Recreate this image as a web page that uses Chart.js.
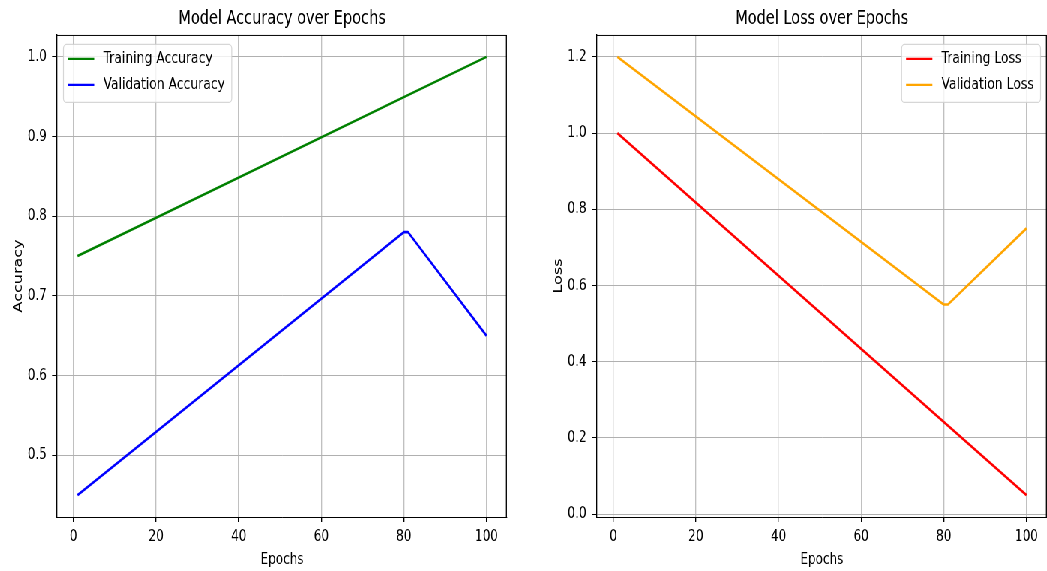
<!DOCTYPE html>
<html>
<head>
<meta charset="utf-8">
<script src="https://cdn.jsdelivr.net/npm/chart.js@4.4.0/dist/chart.umd.min.js"></script>
<style>
html, body { margin: 0; padding: 0; background: #fff; overflow: hidden; width: 1047px; height: 571px; }
/* the reference figure is squeezed sideways (about 3:4), so draw it wide and squeeze it the same way */
#fig { position: absolute; left: 0; top: 0; width: 1396px; height: 571px; transform: scaleX(0.75); transform-origin: 0 0; }
#accCanvas { position: absolute; left: 0; top: 0; }
#lossCanvas { position: absolute; left: 720px; top: 0; }
</style>
</head>
<body>
<div id="fig">
  <canvas id="accCanvas" width="693" height="571"></canvas>
  <canvas id="lossCanvas" width="676" height="571"></canvas>
</div>
<script>
// data
const trainEpochs = [1, 100];
const valEpochs = [1, 80, 81, 100];
const trainAcc = [0.75, 1.0];
const valAcc = [0.45, 0.78, 0.78, 0.65];
const trainLoss = [1.0, 0.05];
const valLoss = [1.2, 0.55, 0.55, 0.75];
const epochTicks = [0, 20, 40, 60, 80, 100];
const accTicks = [0.5, 0.6, 0.7, 0.8, 0.9, 1.0];
const lossTicks = [0.0, 0.2, 0.4, 0.6, 0.8, 1.0, 1.2];

const FONT = "'DejaVu Sans', sans-serif";

function pts(xs, ys) {
  return xs.map((x, i) => ({ x: x, y: ys[i] }));
}

// top and right spines (left and bottom are the axis borders)
const framePlugin = {
  id: "frame",
  afterDatasetsDraw(chart) {
    const a = chart.chartArea;
    const ctx = chart.ctx;
    ctx.save();
    ctx.strokeStyle = "#000";
    ctx.beginPath();
    ctx.lineWidth = 1;
    ctx.moveTo(a.left, a.top + 0.5);
    ctx.lineTo(a.right, a.top + 0.5);
    ctx.stroke();
    ctx.beginPath();
    ctx.lineWidth = 1.33;
    ctx.moveTo(a.right - 0.7, a.top);
    ctx.lineTo(a.right - 0.7, a.bottom);
    ctx.stroke();
    ctx.restore();
  }
};

// legend inside the plot area, in a rounded box
const boxLegend = {
  id: "boxLegend",
  afterDraw(chart, args, opts) {
    const a = chart.chartArea;
    const ctx = chart.ctx;
    const sets = chart.data.datasets;
    ctx.save();
    ctx.font = "16.5px " + FONT;
    let maxW = 0;
    sets.forEach(d => { maxW = Math.max(maxW, ctx.measureText(d.label).width); });
    const w = 53.3 + maxW + 9;
    const h = 58;
    const x = opts.side === "right" ? a.right - 8.5 - w : a.left + 8.5;
    const y = a.top + 9;
    ctx.beginPath();
    ctx.roundRect(x, y + 0.5, w, h, 4);
    ctx.fillStyle = "rgba(255,255,255,0.8)";
    ctx.fill();
    ctx.strokeStyle = "rgba(204,204,204,0.8)";
    ctx.lineWidth = 1.2;
    ctx.stroke();
    sets.forEach((d, i) => {
      const ly = y + 15 + i * 26;
      ctx.beginPath();
      ctx.moveTo(x + 5.9, ly);
      ctx.lineTo(x + 41, ly);
      ctx.strokeStyle = d.borderColor;
      ctx.lineWidth = 2.2;
      ctx.stroke();
      ctx.fillStyle = "#000";
      ctx.textBaseline = "middle";
      ctx.fillText(d.label, x + 53.3, ly);
    });
    ctx.restore();
  }
};

function lineSet(label, xs, ys, color) {
  return {
    label: label,
    data: pts(xs, ys),
    borderColor: color,
    backgroundColor: color,
    borderWidth: 2.6,
    pointRadius: 0,
    tension: 0,
    fill: false,
    borderJoinStyle: "round"
  };
}

function makeOptions(title, yTitle, yMin, yMax, yTicks, padRight, side) {
  return {
    responsive: false,
    animation: false,
    layout: { padding: { left: 0, right: padRight, top: 0, bottom: 0 } },
    plugins: {
      legend: { display: false },
      tooltip: { enabled: false },
      title: {
        display: true,
        text: title,
        fullSize: false,
        color: "#000",
        font: { family: FONT, size: 19.3, weight: "normal" },
        padding: { top: 7.6, bottom: 4.2 }
      },
      boxLegend: { side: side }
    },
    scales: {
      x: {
        type: "linear",
        min: -3.95,
        max: 104.95,
        afterBuildTicks: s => { s.ticks = epochTicks.map(v => ({ value: v })); },
        afterFit: s => { s.height = 54; },
        grid: { color: "#c0c0c0", lineWidth: 1.33, tickColor: "#000", tickLength: 5, tickWidth: 1.33 },
        border: { color: "#000", width: 1 },
        ticks: { color: "#000", font: { family: FONT, size: 16 }, padding: 5, maxRotation: 0 },
        title: { display: true, text: "Epochs", color: "#000", font: { family: FONT, size: 16 }, padding: { top: 0, bottom: 1.5 } }
      },
      y: {
        type: "linear",
        min: yMin,
        max: yMax,
        afterBuildTicks: s => { s.ticks = yTicks.map(v => ({ value: v })); },
        afterFit: s => { s.width = 76; },
        grid: { color: "#b0b0b0", lineWidth: 1, tickColor: "#000", tickLength: 6.7, tickWidth: 1 },
        border: { color: "#000", width: 1.33 },
        ticks: { color: "#000", font: { family: FONT, size: 16 }, padding: 7, callback: v => v.toFixed(1) },
        title: { display: true, text: yTitle, color: "#000", font: { family: FONT, size: 16 }, padding: { top: 15.6, bottom: 0 } }
      }
    }
  };
}

new Chart(document.getElementById("accCanvas"), {
  type: "line",
  data: {
    datasets: [
      lineSet("Training Accuracy", trainEpochs, trainAcc, "#008000"),
      lineSet("Validation Accuracy", valEpochs, valAcc, "#0000ff")
    ]
  },
  options: makeOptions("Model Accuracy over Epochs", "Accuracy", 0.4225, 1.0275, accTicks, 17, "left"),
  plugins: [framePlugin, boxLegend]
});

new Chart(document.getElementById("lossCanvas"), {
  type: "line",
  data: {
    datasets: [
      lineSet("Training Loss", trainEpochs, trainLoss, "#ff0000"),
      lineSet("Validation Loss", valEpochs, valLoss, "#ffa500")
    ]
  },
  options: makeOptions("Model Loss over Epochs", "Loss", -0.0075, 1.2575, lossTicks, 0, "right"),
  plugins: [framePlugin, boxLegend]
});
</script>
</body>
</html>
